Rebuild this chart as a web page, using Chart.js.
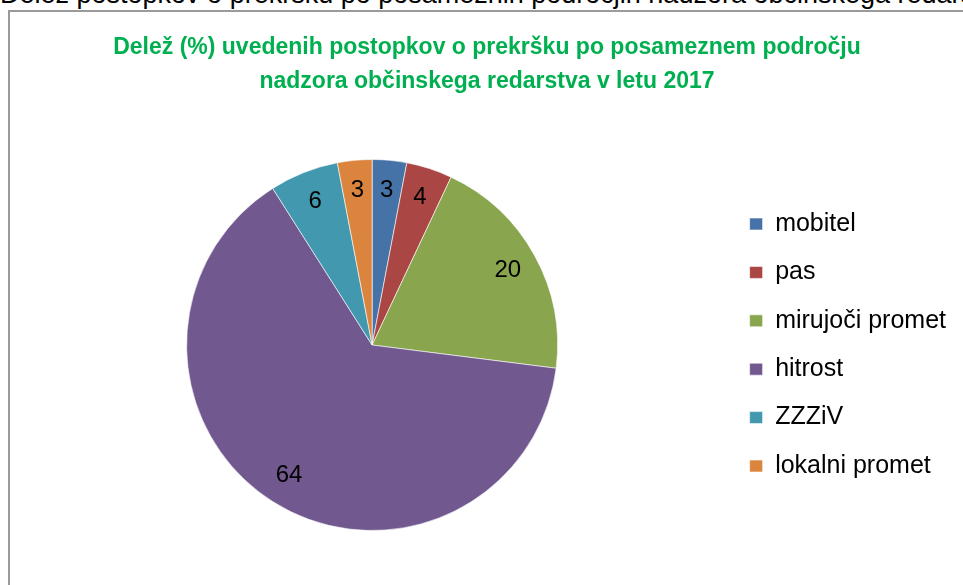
<!DOCTYPE html>
<html>
<head>
<meta charset="utf-8">
<script src="https://cdn.jsdelivr.net/npm/chart.js@4.4.1/dist/chart.umd.min.js"></script>
<style>
  html, body { margin: 0; padding: 0; background: #fff; overflow: hidden; width: 963px; height: 585px; }
  #heading { position: absolute; left: 0; top: -21px; font: 27px "Liberation Sans", Arial, sans-serif; white-space: nowrap; color: #000; }
  #frame { position: absolute; left: 8px; top: 10px; width: 1000px; height: 600px; border-left: 2px solid #9a9a9a; border-top: 2px solid #9a9a9a; }
  #pieChart { position: absolute; left: 9px; top: 11px; }
</style>
</head>
<body>
<div id="heading">Delež postopkov o prekršku po posameznih področjih nadzora občinskega redarstva</div>
<div id="frame"></div>
<canvas id="pieChart" width="966" height="574"></canvas>
<script>
// podatki
const categories = ['mobitel', 'pas', 'mirujoči promet', 'hitrost', 'ZZZiV', 'lokalni promet'];
const shares = [3, 4, 20, 64, 6, 3];
const sliceColors = ['#4572A7', '#AA4643', '#89A54E', '#71588F', '#4198AF', '#DB843D'];
const titleLines = ['Delež (%) uvedenih postopkov o prekršku po posameznem področju',
                    'nadzora občinskega redarstva v letu 2017'];

Chart.defaults.font.family = '"Liberation Sans", Arial, sans-serif';

// vrednosti na rezinah
const sliceLabels = {
    id: 'sliceLabels',
    afterDatasetsDraw(chart) {
        const ctx = chart.ctx;
        const meta = chart.getDatasetMeta(0);
        ctx.save();
        ctx.font = '24px "Liberation Sans", Arial, sans-serif';
        ctx.fillStyle = '#000';
        ctx.textAlign = 'center';
        ctx.textBaseline = 'middle';
        meta.data.forEach((arc, i) => {
            const p = arc.getProps(['x', 'y', 'startAngle', 'endAngle', 'outerRadius'], true);
            const mid = (p.startAngle + p.endAngle) / 2;
            const r = p.outerRadius * 0.835;
            ctx.fillText(String(shares[i]), p.x + Math.cos(mid) * r, p.y + Math.sin(mid) * r);
        });
        ctx.restore();
    }
};

const ctx = document.getElementById('pieChart').getContext('2d');
const pieChart = new Chart(ctx, {
    type: 'pie',
    data: {
        labels: categories,
        datasets: [{
            data: shares,
            backgroundColor: sliceColors,
            borderColor: 'rgba(255,255,255,0.6)',
            borderWidth: 1
        }]
    },
    options: {
        responsive: false,
        animation: false,
        layout: {
            padding: { left: 9, right: 19, top: 0, bottom: 54 }
        },
        plugins: {
            title: {
                display: true,
                text: titleLines,
                color: '#00B050',
                font: { size: 23, weight: 'bold', lineHeight: 1.5 },
                padding: { top: 19, bottom: 60 }
            },
            legend: {
                position: 'right',
                fullSize: false,
                labels: {
                    color: '#000',
                    font: { size: 25 },
                    boxWidth: 13,
                    boxHeight: 12,
                    padding: 23.4
                }
            },
            tooltip: { enabled: false }
        }
    },
    plugins: [sliceLabels]
});
</script>
</body>
</html>
